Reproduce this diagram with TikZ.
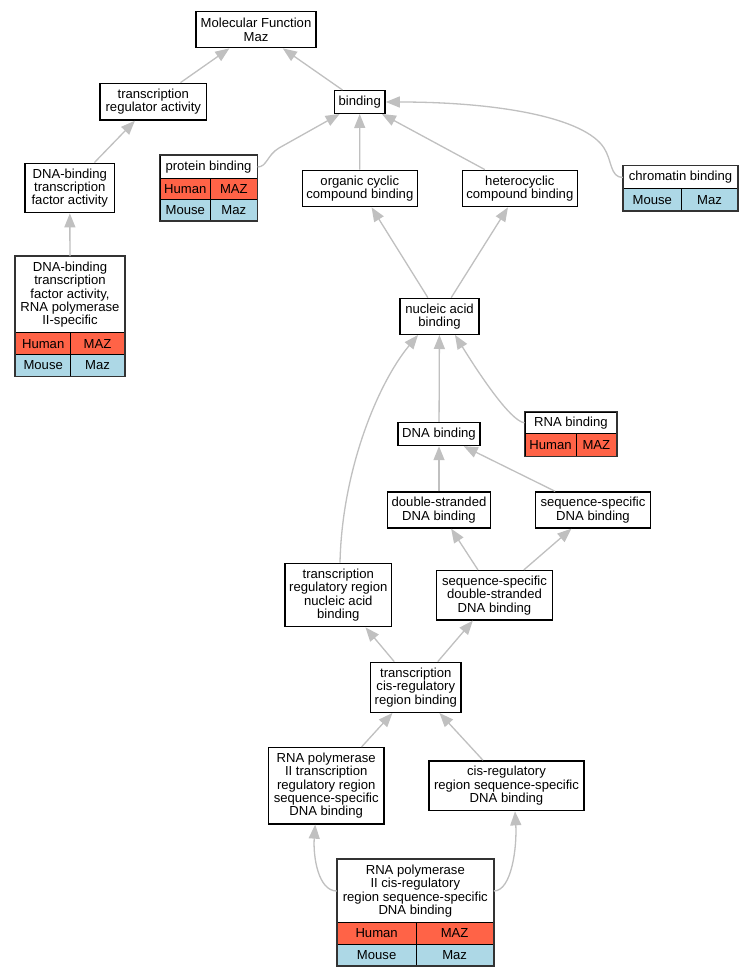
\documentclass[tikz,border=0pt]{standalone}
\usepackage{fontspec}
\setmainfont{Liberation Sans}
\usetikzlibrary{arrows.meta}
\definecolor{human}{HTML}{FF6347}
\definecolor{mouse}{HTML}{ADD8E6}
\definecolor{edgegray}{HTML}{C0C0C0}
\definecolor{bordergray}{HTML}{333333}
\newcommand\lab{\fontsize{13.1}{13.33}\selectfont}
\begin{document}
\begin{tikzpicture}[x=1pt,y=-1pt,
  gbox/.style={draw=black, line width=1.4pt, fill=white, inner sep=0pt, align=center, font=\lab},
  tcell/.style={draw=black, line width=1pt, fill=white, inner sep=0pt, align=center, font=\lab},
  hcell/.style={tcell, fill=human},
  mcell/.style={tcell, fill=mouse},
  tabborder/.style={draw=bordergray, line width=1.5pt},
  link/.style={draw=edgegray, line width=1.3pt, -{Triangle[length=14pt,width=11pt]}}]
\fill[white] (0,0) rectangle (752,976);
\useasboundingbox (0,0) rectangle (752,976);

% plain boxes
\node[gbox, minimum width=120pt, minimum height=36pt] (mf) at (256,29.7) {Molecular Function\\Maz};
\node[gbox, minimum width=106.7pt, minimum height=36.7pt] (tra) at (153.3,101.7) {transcription\\regulator activity};
\node[gbox, minimum width=50.7pt, minimum height=22.6pt] (bind) at (359.7,102) {binding};
\node[gbox, minimum width=89.7pt, minimum height=49.4pt] (dtf) at (69.8,188) {DNA-binding\\transcription\\factor activity};
\node[gbox, minimum width=115pt, minimum height=36.4pt] (org) at (359.8,188.5) {organic cyclic\\compound binding};
\node[gbox, minimum width=115pt, minimum height=36.4pt] (het) at (519.8,188.5) {heterocyclic\\compound binding};
\node[gbox, minimum width=79pt, minimum height=36pt] (nab) at (439.5,316.3) {nucleic acid\\binding};
\node[gbox, minimum width=82pt, minimum height=23pt] (dna) at (439,434) {DNA binding};
\node[gbox, minimum width=103pt, minimum height=36pt] (ds) at (439,510) {double-stranded\\DNA binding};
\node[gbox, minimum width=114.6pt, minimum height=36pt] (ssd) at (593,510) {sequence-specific\\DNA binding};
\node[gbox, minimum width=106.7pt, minimum height=63.4pt] (trr) at (338.3,595) {transcription\\regulatory region\\nucleic acid\\binding};
\node[gbox, minimum width=115.6pt, minimum height=49.3pt] (ssds) at (494.5,595.3) {sequence-specific\\double-stranded\\DNA binding};
\node[gbox, minimum width=90.3pt, minimum height=50pt] (tcr) at (415.8,687.3) {transcription\\cis-regulatory\\region binding};
\node[gbox, minimum width=115.7pt, minimum height=76.3pt] (rp2t) at (326.2,785.8) {RNA polymerase\\II transcription\\regulatory region\\sequence-specific\\DNA binding};
\node[gbox, minimum width=155pt, minimum height=49.7pt] (crs) at (506.5,785.8) {cis-regulatory\\region sequence-specific\\DNA binding};

% table: protein binding
\node[tcell, minimum width=97pt, minimum height=22.6pt] (prot) at (208.5,167) {protein binding};
\node[hcell, minimum width=50.7pt, minimum height=21.4pt] (protH) at (185.35,189) {Human};
\node[hcell, minimum width=46.3pt, minimum height=21.4pt] (protHg) at (233.85,189) {MAZ};
\node[mcell, minimum width=50.7pt, minimum height=21pt] (protM) at (185.35,210.2) {Mouse};
\node[mcell, minimum width=46.3pt, minimum height=21pt] (protMg) at (233.85,210.2) {Maz};
\draw[tabborder] (prot.north west) rectangle (protMg.south east);

% table: chromatin binding
\node[tcell, minimum width=114.4pt, minimum height=23pt] (chrom) at (680.5,177.5) {chromatin binding};
\node[mcell, minimum width=58pt, minimum height=21.7pt] (chromM) at (652.3,199.85) {Mouse};
\node[mcell, minimum width=56.4pt, minimum height=21.7pt] (chromMg) at (709.5,199.85) {Maz};
\draw[tabborder] (chrom.north west) rectangle (chromMg.south east);

% table: DNA-binding TF activity, RNA pol II-specific
\node[tcell, minimum width=108.6pt, minimum height=76pt] (dtf2) at (70,294.7) {DNA-binding\\transcription\\factor activity,\\RNA polymerase\\II-specific};
\node[hcell, minimum width=55pt, minimum height=22pt] (dtf2H) at (43.2,343.7) {Human};
\node[hcell, minimum width=53.6pt, minimum height=22pt] (dtf2Hg) at (97.5,343.7) {MAZ};
\node[mcell, minimum width=55pt, minimum height=21.3pt] (dtf2M) at (43.2,365.35) {Mouse};
\node[mcell, minimum width=53.6pt, minimum height=21.3pt] (dtf2Mg) at (97.5,365.35) {Maz};
\draw[tabborder] (dtf2.north west) rectangle (dtf2Mg.south east);

% table: RNA binding
\node[tcell, minimum width=91.7pt, minimum height=21.7pt] (rna) at (570.85,422.85) {RNA binding};
\node[hcell, minimum width=51pt, minimum height=22.3pt] (rnaH) at (550.5,444.85) {Human};
\node[hcell, minimum width=40.7pt, minimum height=22.3pt] (rnaHg) at (596.35,444.85) {MAZ};
\draw[tabborder] (rna.north west) rectangle (rnaHg.south east);

% table: RNA pol II cis-regulatory
\node[tcell, minimum width=156pt, minimum height=63.4pt] (rp2c) at (415.3,891) {RNA polymerase\\II cis-regulatory\\region sequence-specific\\DNA binding};
\node[hcell, minimum width=78.7pt, minimum height=21.3pt] (rp2cH) at (376.65,933.35) {Human};
\node[hcell, minimum width=77.3pt, minimum height=21.3pt] (rp2cHg) at (454.65,933.35) {MAZ};
\node[mcell, minimum width=78.7pt, minimum height=21.3pt] (rp2cM) at (376.65,954.65) {Mouse};
\node[mcell, minimum width=77.3pt, minimum height=21.3pt] (rp2cMg) at (454.65,954.65) {Maz};
\draw[tabborder] (rp2c.north west) rectangle (rp2cMg.south east);

% connectors
\draw[link] (tra) -- (mf);
\draw[link] (bind) -- (mf);
\draw[link] (dtf) -- (tra);
\draw[link] (dtf2) -- (dtf);
\draw[link] (prot.east) .. controls (267,167) and (267,155) .. (279,148) -- ([xshift=6pt]bind.south west);
\draw[link] (org) -- (bind);
\draw[link] (het) -- (bind);
\draw[link] (chrom.west) .. controls (610,177.5) and (612,160) .. (604,148) .. controls (585,118) and (500,102) .. (bind.east);
\draw[link] (nab) -- (org);
\draw[link] (nab) -- (het);
\draw[link] (rna.west) .. controls (510,421) and (478,372) .. ([xshift=15.5pt]nab.south);
\draw[link] (dna) -- (nab);
\draw[link] ([xshift=1.7pt]trr.north) .. controls (342,470) and (378,383) .. ([xshift=-21.5pt]nab.south);
\draw[link] (ds) -- (dna);
\draw[link] (ssd) -- (dna);
\draw[link] (ssds) -- (ds);
\draw[link] (ssds) -- (ssd);
\draw[link] (tcr) -- (trr);
\draw[link] (tcr) -- (ssds);
\draw[link] (rp2t) -- (tcr);
\draw[link] (crs) -- (tcr);
\draw[link] (rp2c.west) .. controls (318,891) and (313,856) .. ([xshift=-11pt]rp2t.south);
\draw[link] (rp2c.east) .. controls (512,891) and (517,846) .. ([xshift=8.5pt]crs.south);
\end{tikzpicture}
\end{document}
